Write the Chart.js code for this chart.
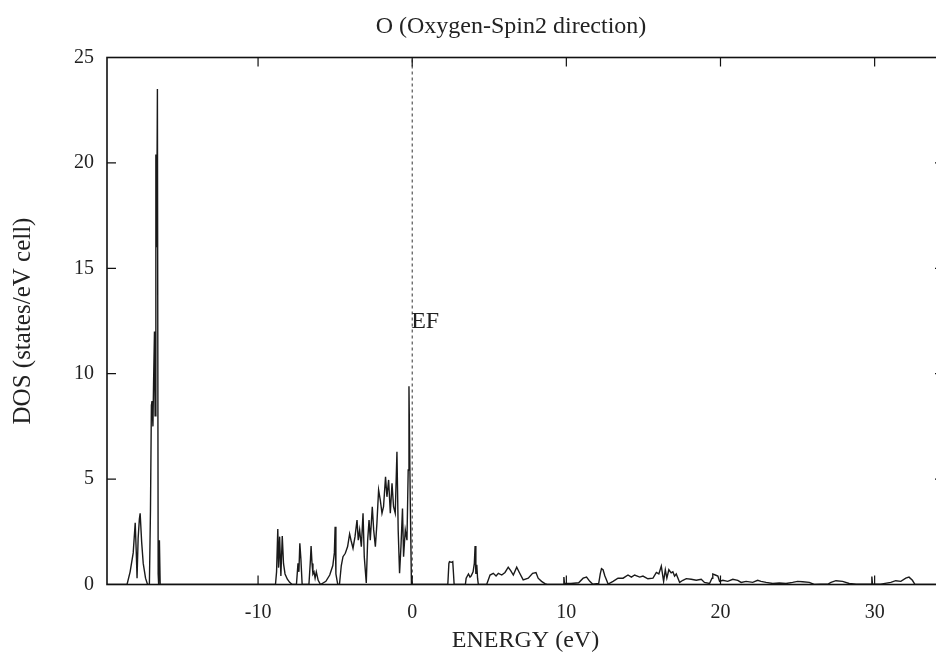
<!DOCTYPE html>
<html>
<head>
<meta charset="utf-8">
<script src="https://cdn.jsdelivr.net/npm/chart.js@4.4.1/dist/chart.umd.min.js"></script>
<style>
  html, body { margin: 0; padding: 0; background: #fff; overflow: hidden; width: 936px; height: 660px; }
  #wrap { position: absolute; left: 0; top: 0; width: 1020px; height: 660px; }
</style>
</head>
<body>
<div id="wrap"><canvas id="c" width="1020" height="660"></canvas></div>
<script>
// ---- data ----
const titleText = "O (Oxygen-Spin2 direction)";
const xLabel = "ENERGY (eV)";
const yLabel = "DOS (states/eV cell)";
const xTicks = [-10, 0, 10, 20, 30];
const yTicks = [0, 5, 10, 15, 20, 25];
const fermiLabel = "EF";

// energy (eV) and density of states
const energy = [
  -19.8, -18.5, -18.3, -18.1, -17.97, -17.9, -17.85, -17.78, -17.7, -17.65, -17.55, -17.45, -17.3, -17.17,
  -17.05, -16.98, -16.92, -16.88, -16.82, -16.78, -16.72, -16.68, -16.63, -16.58, -16.53, -16.48, -16.45, -16.4, -16.35,
  -8.87, -8.8, -8.72, -8.67, -8.6, -8.52, -8.43, -8.35, -8.25, -8.1, -7.95, -7.79,
  -7.51, -7.41, -7.35, -7.29, -7.22, -7.14,
  -6.7, -6.6, -6.56, -6.5, -6.44, -6.37, -6.3, -6.22, -6.1, -5.95,
  -5.6, -5.35, -5.15, -5.05, -5.0, -4.95, -4.83,
  -4.72, -4.6, -4.49, -4.34, -4.19, -4.06, -3.97, -3.84, -3.71, -3.58, -3.5, -3.41, -3.3, -3.19, -3.11,
  -2.98, -2.89, -2.8, -2.72, -2.59, -2.5, -2.39, -2.29, -2.18, -2.07, -1.96, -1.86, -1.73, -1.64, -1.53,
  -1.42, -1.31, -1.21, -1.1, -0.99, -0.91, -0.82, -0.73, -0.63, -0.56, -0.45, -0.34, -0.26, -0.21, -0.13, -0.05, 0.0,
  2.31, 2.38, 2.42, 2.55, 2.63, 2.68, 2.72,
  3.45, 3.5, 3.65, 3.75, 3.82, 3.95, 4.03, 4.08, 4.13, 4.19, 4.24, 4.29,
  4.83, 5.05, 5.26, 5.44, 5.59, 5.81, 6.02, 6.23, 6.39, 6.56, 6.78, 6.95, 7.2, 7.53, 7.81, 8.03, 8.17, 8.39, 8.61, 8.75,
  9.8, 9.84, 9.88, 10.3, 10.8, 11.09, 11.31, 11.52, 11.7, 12.1, 12.2, 12.28, 12.38, 12.5, 12.56, 12.71,
  13.03, 13.35, 13.68, 14.0, 14.22, 14.43, 14.76, 14.97, 15.29, 15.62, 15.84, 16.0, 16.16, 16.31, 16.42, 16.52,
  16.65, 16.8, 16.91, 17.02, 17.13, 17.35, 17.56, 17.78, 18.1, 18.43, 18.75, 18.96, 19.29, 19.45, 19.5, 19.66,
  19.83, 19.94, 20.15, 20.47, 20.8, 21.12, 21.34, 21.66, 22.09, 22.41, 22.63, 22.96, 23.39, 23.82, 24.25, 24.68,
  25.0, 25.33, 25.76, 26.08, 26.5, 27.0, 27.17, 27.49, 27.92, 28.35, 28.8, 29.5, 29.78, 29.82, 29.86, 30.4,
  31.05, 31.37, 31.7, 32.02, 32.23, 32.45, 32.62, 34.5
];
const dos = [
  0, 0, 0.6, 1.5, 2.93, 1.5, 0.3, 2.2, 3.1, 3.38, 2.0, 1.0, 0.3, 0,
  0, 3.5, 8.5, 8.7, 7.5, 9.5, 12.0, 8.0, 20.4, 16.0, 23.5, 0.5, 0, 2.1, 0,
  0, 0.6, 2.63, 0.8, 2.27, 0.4, 2.3, 1.0, 0.5, 0.25, 0.1, 0,
  0, 1.0, 0.6, 1.95, 1.2, 0,
  0, 1.2, 1.83, 1.0, 0.5, 0.6, 0.3, 0.6, 0.2, 0,
  0.15, 0.45, 0.9, 1.5, 2.74, 0.5, 0,
  0, 0.9, 1.32, 1.48, 1.8, 2.4, 2.1, 1.72, 2.27, 3.06, 2.1, 2.59, 1.79, 3.38, 1.32,
  0.07, 2.1, 3.06, 2.1, 3.69, 2.59, 1.79, 2.9, 4.48, 4.0, 3.38, 3.69, 5.11, 4.16, 4.96,
  3.38, 4.8, 3.69, 3.38, 6.3, 2.59, 0.53, 1.79, 3.6, 1.32, 2.59, 2.1, 5.43, 9.4, 4.17, 0, 0,
  0, 1.0, 1.08, 1.05, 1.08, 0.5, 0,
  0, 0.3, 0.5, 0.35, 0.4, 0.6, 1.0, 1.83, 0.5, 0.93, 0.3, 0,
  0, 0.45, 0.53, 0.4, 0.53, 0.45, 0.57, 0.82, 0.66, 0.45, 0.82, 0.57, 0.22, 0.3, 0.53, 0.57, 0.3, 0.15, 0.04, 0,
  0, 0.35, 0.05, 0.05, 0.08, 0.3, 0.35, 0.15, 0.02, 0.05, 0.5, 0.75, 0.7, 0.4, 0.3, 0.02,
  0.15, 0.3, 0.3, 0.45, 0.35, 0.45, 0.35, 0.4, 0.27, 0.3, 0.57, 0.5, 0.87, 0.15, 0.7, 0.3,
  0.7, 0.55, 0.6, 0.4, 0.5, 0.1, 0.2, 0.28, 0.25, 0.2, 0.25, 0.1, 0.05, 0.3, 0.5, 0.45,
  0.4, 0.15, 0.2, 0.15, 0.25, 0.2, 0.1, 0.15, 0.1, 0.2, 0.15, 0.1, 0.05, 0.07, 0.05, 0.1,
  0.15, 0.13, 0.1, 0, 0.02, 0.03, 0.1, 0.18, 0.15, 0.05, 0.02, 0.02, 0.02, 0.38, 0.02, 0.02,
  0.1, 0.18, 0.15, 0.3, 0.35, 0.2, 0, 0
];
const fermiX = [0, 0];
const fermiY = [0, 25];
const fermiLabelPos = [0, 12.45];

// ---- chart ----
const FONT = "'Liberation Serif', 'Times New Roman', serif";
const points = energy.map((e, i) => ({ x: e, y: dos[i] }));
const fermi = fermiX.map((e, i) => ({ x: e, y: fermiY[i] }));

const frame = {
  id: 'frame',
  afterDraw(chart) {
    const { ctx, chartArea: a, scales } = chart;
    ctx.save();
    ctx.strokeStyle = '#111';
    ctx.lineWidth = 1.6;
    ctx.strokeRect(a.left, a.top, a.right - a.left, a.bottom - a.top);
    ctx.lineWidth = 1.2;
    const tl = 9;
    xTicks.forEach(v => {
      const px = scales.x.getPixelForValue(v);
      ctx.beginPath();
      ctx.moveTo(px, a.bottom); ctx.lineTo(px, a.bottom - tl);
      ctx.moveTo(px, a.top); ctx.lineTo(px, a.top + tl);
      ctx.stroke();
    });
    yTicks.forEach(v => {
      const py = scales.y.getPixelForValue(v);
      ctx.beginPath();
      ctx.moveTo(a.left, py); ctx.lineTo(a.left + tl, py);
      ctx.moveTo(a.right, py); ctx.lineTo(a.right - tl, py);
      ctx.stroke();
    });
    ctx.fillStyle = '#222';
    ctx.font = "24px " + FONT;
    ctx.textAlign = 'left';
    ctx.textBaseline = 'middle';
    ctx.fillText(fermiLabel, scales.x.getPixelForValue(fermiLabelPos[0]) - 1, scales.y.getPixelForValue(fermiLabelPos[1]));
    // plot title (gnuplot centres it on the full original page)
    ctx.textAlign = 'center';
    ctx.fillText(titleText, 511, 27);
    ctx.restore();
  }
};

new Chart(document.getElementById('c'), {
  type: 'scatter',
  data: {
    datasets: [
      { data: points, showLine: true, borderColor: '#1a1a1a', borderWidth: 1.4, pointRadius: 0, tension: 0, fill: false },
      { data: fermi, showLine: true, borderColor: '#333', borderWidth: 1, borderDash: [3, 3], pointRadius: 0, fill: false }
    ]
  },
  options: {
    responsive: false,
    animation: false,
    devicePixelRatio: 1,
    layout: { padding: { left: 0, right: 76, top: 57.5, bottom: 0 } },
    plugins: {
      legend: { display: false },
      tooltip: { enabled: false },
      title: { display: false }
    },
    scales: {
      x: {
        type: 'linear', min: -19.8, max: 34.5,
        afterBuildTicks: s => { s.ticks = xTicks.map(v => ({ value: v })); },
        afterFit: s => { s.height = 75.5; },
        grid: { display: false, drawTicks: false },
        border: { display: false },
        ticks: { color: '#222', padding: 16, maxRotation: 0, font: { family: FONT, size: 20 } },
        title: { display: true, text: xLabel, color: '#222', font: { family: FONT, size: 24 }, padding: { top: 0, bottom: 5 } }
      },
      y: {
        type: 'linear', min: 0, max: 25,
        afterBuildTicks: s => { s.ticks = yTicks.map(v => ({ value: v })); },
        afterFit: s => { s.width = 107; },
        grid: { display: false, drawTicks: false },
        border: { display: false },
        ticks: { color: '#222', padding: 13, font: { family: FONT, size: 20 } },
        title: { display: true, text: yLabel, color: '#222', font: { family: FONT, size: 25 }, padding: { top: 8, bottom: 0 } }
      }
    }
  },
  plugins: [frame]
});
</script>
</body>
</html>
